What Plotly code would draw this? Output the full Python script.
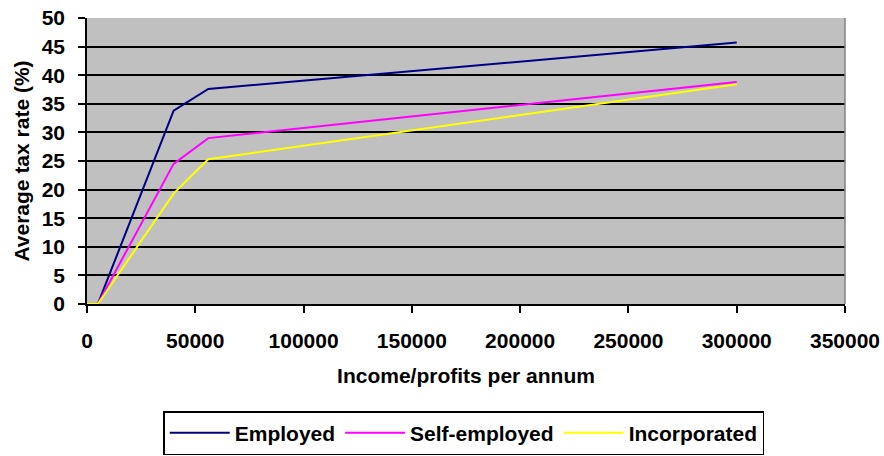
import plotly.graph_objects as go

# Income / profit levels and the average tax rate (%) for each status
income = [0, 5000, 40000, 56000, 300000]
employed = [0, 0, 33.8, 37.6, 45.7]
self_employed = [0, 0, 24.5, 29.0, 38.8]
incorporated = [0, 0, 19.3, 25.3, 38.4]

x_ticks = [0, 50000, 100000, 150000, 200000, 250000, 300000, 350000]
y_ticks = [0, 5, 10, 15, 20, 25, 30, 35, 40, 45, 50]

series = [
    ("Employed", employed, "#000080"),
    ("Self-employed", self_employed, "#FF00FF"),
    ("Incorporated", incorporated, "#FFFF00"),
]


def b(text):
    return f"<b>{text}</b>"


fig = go.Figure()
for name, vals, color in series:
    fig.add_trace(go.Scatter(
        x=income, y=vals, name=b(name), mode="lines",
        line=dict(color=color, width=2),
    ))

font_family = "Liberation Sans, Arial, sans-serif"
txt = dict(family=font_family, color="black")

fig.update_layout(
    width=884, height=456,
    margin=dict(l=87, r=39, t=18, b=152),
    paper_bgcolor="white",
    plot_bgcolor="#C0C0C0",
    font=dict(family=font_family, size=20, color="black"),
    showlegend=True,
    legend=dict(
        orientation="h", xref="paper", yref="container",
        x=0.497, xanchor="center", y=0.002, yanchor="bottom",
        bordercolor="black", borderwidth=1.5, bgcolor="white",
        font=dict(size=21, **txt),
        itemwidth=60, traceorder="normal",
    ),
    xaxis=dict(
        range=[0, 350000], tickvals=x_ticks,
        ticktext=[b(v) for v in x_ticks],
        showgrid=False, zeroline=False,
        showline=True, linecolor="black", linewidth=1.5,
        ticks="outside", ticklen=7, tickcolor="black", tickwidth=1.5,
        ticklabelstandoff=10,
        tickfont=dict(size=21, **txt),
        title=dict(text=b("Income/profits per annum"),
                   font=dict(size=21, **txt), standoff=17),
        automargin=False,
        layer="below traces",
    ),
    yaxis=dict(
        range=[0, 50], tickvals=y_ticks,
        ticktext=[b(v) for v in y_ticks],
        showgrid=True, gridcolor="black", gridwidth=1.5,
        zeroline=False,
        showline=True, linecolor="black", linewidth=1.5,
        ticks="outside", ticklen=7, tickcolor="black", tickwidth=1.5,
        ticklabelstandoff=9,
        tickfont=dict(size=21, **txt),
        title=dict(text=b("Average tax rate (%)"),
                   font=dict(size=21, **txt), standoff=6),
        automargin=False,
        layer="below traces",
    ),
)

# Grey border on the right side of the plotting area
fig.add_shape(type="line", xref="paper", yref="paper",
              x0=1, x1=1, y0=0, y1=1,
              line=dict(color="#808080", width=1.5))

fig.write_html("out.html")
